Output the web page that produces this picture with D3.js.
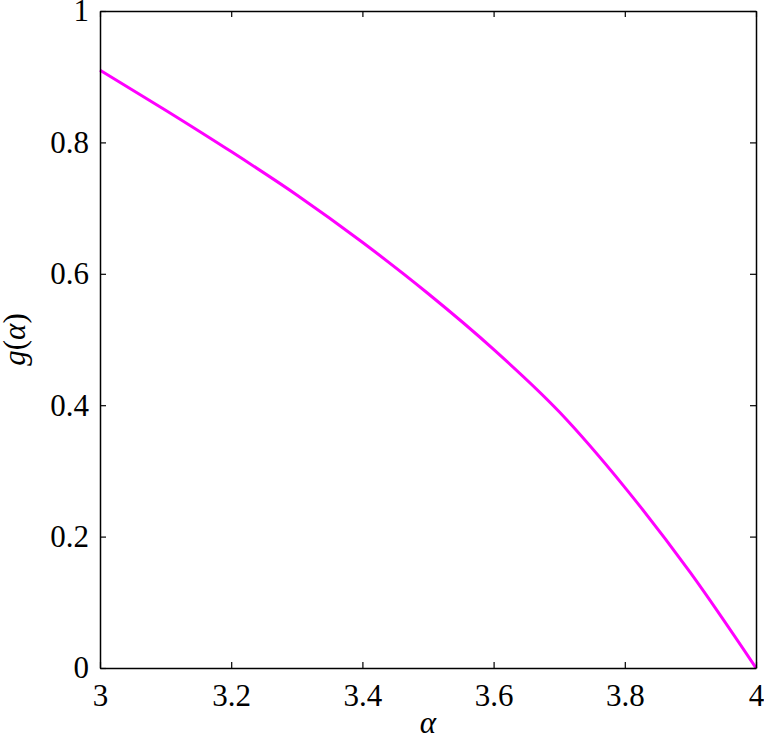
<!DOCTYPE html>
<html>
<head>
<meta charset="utf-8">
<script src="https://cdn.jsdelivr.net/npm/d3@7"></script>
<style>
  body { margin: 0; background: #fff; }
</style>
</head>
<body>
<div id="chart"></div>
<script>
// values
const alphaValues = [3.0, 3.1, 3.2, 3.3, 3.4, 3.5, 3.6, 3.7, 3.8, 3.9, 4.0];
const gValues     = [0.910, 0.849, 0.786, 0.720, 0.648, 0.570, 0.485, 0.390, 0.275, 0.145, 0.0];
const xTicks = [3, 3.2, 3.4, 3.6, 3.8, 4];
const yTicks = [0, 0.2, 0.4, 0.6, 0.8, 1];

const W = 764, H = 737;
const margin = {top: 11, right: 8, bottom: 69, left: 100};
const width = W - margin.left - margin.right;
const height = H - margin.top - margin.bottom;
const serif = "Liberation Serif";
const fontSize = 31;

const svg = d3.select("#chart").append("svg")
  .attr("width", W)
  .attr("height", H);

const g = svg.append("g")
  .attr("transform", "translate(" + margin.left + "," + margin.top + ")");

const x = d3.scaleLinear().domain([3, 4]).range([0, width]);
const y = d3.scaleLinear().domain([0, 1]).range([height, 0]);

const fmt = d => String(+d.toFixed(1));

// curve
const data = alphaValues.map((a, i) => ({a: a, v: gValues[i]}));
g.append("path")
  .datum(data)
  .attr("fill", "none")
  .attr("stroke", "#ff00ff")
  .attr("stroke-width", 3)
  .attr("d", d3.line().x(d => x(d.a)).y(d => y(d.v)).curve(d3.curveMonotoneX));

// axes, ticks point inward, box on
const styleAxis = sel => {
  sel.attr("font-family", serif).attr("font-size", fontSize);
  sel.select(".domain").attr("stroke", "#000").attr("stroke-width", 1.5);
  sel.selectAll(".tick line").attr("stroke", "#000").attr("stroke-width", 1.2);
  sel.selectAll("text").attr("fill", "#000");
};

g.append("g")
  .attr("transform", "translate(0," + height + ")")
  .call(d3.axisBottom(x).tickValues(xTicks).tickSize(-6).tickSizeOuter(0).tickPadding(16).tickFormat(fmt))
  .call(styleAxis);

g.append("g")
  .call(d3.axisTop(x).tickValues(xTicks).tickSize(-6).tickSizeOuter(0).tickFormat(""))
  .call(styleAxis);

g.append("g")
  .call(d3.axisLeft(y).tickValues(yTicks).tickSize(-6).tickSizeOuter(0).tickPadding(11).tickFormat(fmt))
  .call(styleAxis);

g.append("g")
  .attr("transform", "translate(" + width + ",0)")
  .call(d3.axisRight(y).tickValues(yTicks).tickSize(-6).tickSizeOuter(0).tickFormat(""))
  .call(styleAxis);

// axis titles
svg.append("text")
  .attr("x", margin.left + width / 2)
  .attr("y", 733)
  .attr("text-anchor", "middle")
  .attr("font-family", serif)
  .attr("font-size", fontSize)
  .attr("font-style", "italic")
  .text("α");

const yl = svg.append("text")
  .attr("transform", "translate(25," + (margin.top + height / 2) + ") rotate(-90)")
  .attr("text-anchor", "middle")
  .attr("font-family", serif)
  .attr("font-size", fontSize);
yl.append("tspan").attr("font-style", "italic").text("g");
yl.append("tspan").text("(");
yl.append("tspan").attr("font-style", "italic").text("α");
yl.append("tspan").text(")");
</script>
</body>
</html>
